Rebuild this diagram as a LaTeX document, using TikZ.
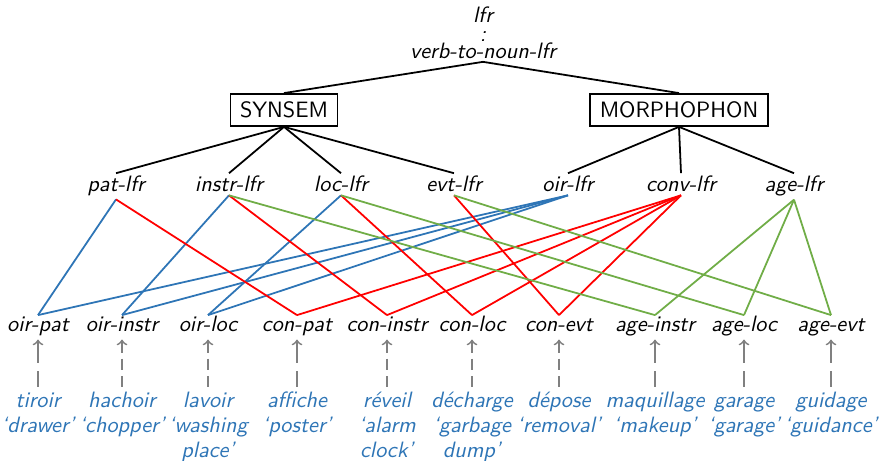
\documentclass[tikz,border=0pt]{standalone}
\usepackage{fontspec}
\usetikzlibrary{arrows,positioning}
\definecolor{linkblue}{RGB}{46,117,182}
\definecolor{linkgreen}{RGB}{112,173,71}
\definecolor{linkred}{RGB}{255,0,0}
\definecolor{exgray}{RGB}{128,128,128}
\tikzset{
  lab/.style={font=\sffamily\itshape, inner sep=1.2pt, anchor=base},
  leaf/.style={lab, text height=6.2pt, text depth=2pt},
  dim/.style={draw, thick, font=\sffamily, inner xsep=4.3pt, minimum height=14.4pt},
  gloss/.style={font=\sffamily\itshape\fontsize{10}{11.25}\selectfont, text=linkblue,
    align=center, anchor=north, inner sep=1.2pt},
  tree/.style={thick},
  ex/.style={exgray, thick, arrows=<-, dash pattern=on 10pt off 3.6pt},
  exd/.style={exgray, thick, arrows=<-, dash pattern=on 5.2pt off 2.7pt}
}
\begin{document}
\begin{tikzpicture}[x=4.5pt,y=4.5pt]
				\useasboundingbox (0,0) rectangle (88.1,46.1);
				\node[lab] (lfr) at (48.3,43.8) {lfr};
				\node[lab,inner sep=0pt] (colon) at (48.3,41.9) {:};
				\node[lab] (vtn) at (48.3,40.25) {verb-to-noun-lfr};
				\node[dim] (syn) at (28.4,35.1) {SYNSEM};
				\node[dim] (mor) at (67.9,35.1) {MORPHOPHON};
				\draw[tree] (vtn.south) -- (syn.north);
				\draw[tree] (vtn.south) -- (mor.north);
				% lexeme formation rules
				 \foreach \x/\n in {11.6/pat,22.9/instr,34.1/loc,45.4/evt,56.8/oir,68.1/conv,79.4/age}
				    \node[lab] (\n) at (\x,26.9) {\n-lfr};
				 \foreach \n in {pat,instr,loc,evt}
				    \draw[tree] (syn.south) -- (\n.north);
				 \foreach \n in {oir,conv,age}
				    \draw[tree] (mor.south) -- (\n.north);
				% derived types and examples
				 \foreach \x/\n/\gl/\sty in {3.8/oir-pat/{tiroir\\‘drawer’}/ex,
				    12.2/oir-instr/{hachoir\\‘chopper’}/exd,
				    20.8/oir-loc/{lavoir\\‘washing\\place’}/exd,
				    29.7/con-pat/{affiche\\‘poster’}/ex,
				    38.7/con-instr/{réveil\\‘alarm\\clock’}/exd,
				    47.2/con-loc/{décharge\\‘garbage\\dump’}/exd,
				    55.9/con-evt/{dépose\\‘removal’}/exd,
				    65.5/age-instr/{maquillage\\‘makeup’}/ex,
				    74.4/age-loc/{garage\\‘garage’}/ex,
				    83.1/age-evt/{guidage\\‘guidance’}/ex}
				 {
				    \node[leaf] (\n) at (\x,12.9) {\n};
				    \node[gloss] (g-\n) at (\x,7.4) {\strut\gl};
				    \draw[\sty] (\n.south) -- (g-\n.north);
				 }
				 \foreach \a/\b in {pat/oir-pat,instr/oir-instr,loc/oir-loc,oir/oir-pat,oir/oir-instr,oir/oir-loc}
				    \draw[linkblue,thick] (\a.south) -- (\b.north);
				 \foreach \a/\b in {pat/con-pat,instr/con-instr,loc/con-loc,evt/con-evt,conv/con-pat,conv/con-instr,conv/con-loc,conv/con-evt}
				    \draw[linkred,thick] (\a.south) -- (\b.north);
				 \foreach \a/\b in {instr/age-instr,loc/age-loc,evt/age-evt,age/age-instr,age/age-loc,age/age-evt}
				    \draw[linkgreen,thick] (\a.south) -- (\b.north);
			\end{tikzpicture}
\end{document}
